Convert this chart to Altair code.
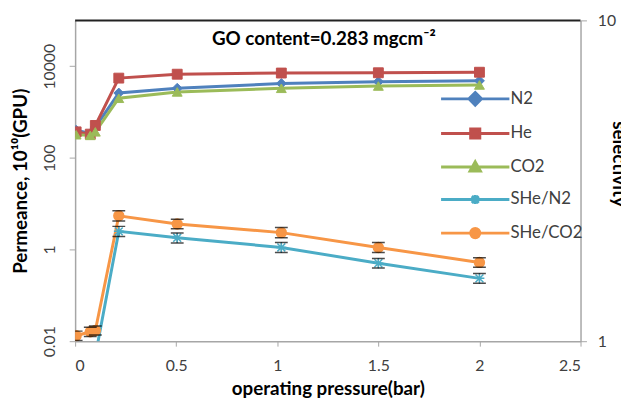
import altair as alt
import pandas as pd

# ---------------- data ----------------
PRESSURE = [0.005, 0.075, 0.1, 0.216, 0.505, 1.02, 1.5, 2.0]
N2 = [400, 340, 470, 2600, 3300, 4200, 4600, 4800]
HE = [370, 330, 510, 5500, 6700, 7100, 7200, 7400]
CO2 = [320, 310, 370, 2000, 2750, 3300, 3700, 3900]
S_HE_N2 = [0.88, 0.88, 0.9, 2.2, 2.1, 1.96, 1.75, 1.57]
S_HE_CO2 = [1.04, 1.07, 1.08, 2.46, 2.32, 2.18, 1.96, 1.76]
ERR_HE_N2 = [0.03, 0.03, 0.03, 0.08, 0.075, 0.07, 0.06, 0.055]
ERR_HE_CO2 = [0.035, 0.035, 0.035, 0.09, 0.08, 0.08, 0.07, 0.06]

SERIES = ["N2", "He", "CO2", "SHe/N2", "SHe/CO2"]
COLORS = ["#4F81BD", "#C0504D", "#9BBB59", "#4BACC6", "#F79646"]
TITLE = "GO content=0.283 mgcm\u207b\u00b2"
X_TICKS = [0, 0.5, 1, 1.5, 2, 2.5]
LEFT_TICKS = [0.01, 1, 100, 10000]
RIGHT_TICKS = [1, 10]

# ---------------- tables ----------------
perm = pd.concat([
    pd.DataFrame({"pressure": PRESSURE, "value": v, "series": s})
    for s, v in (("N2", N2), ("He", HE), ("CO2", CO2))
], ignore_index=True)

sel_parts = []
for s, v, e in (("SHe/N2", S_HE_N2, ERR_HE_N2), ("SHe/CO2", S_HE_CO2, ERR_HE_CO2)):
    d = pd.DataFrame({"pressure": PRESSURE, "value": v, "err": e, "series": s})
    d["lo"] = d["value"] - d["err"]
    d["hi"] = d["value"] + d["err"]
    sel_parts.append(d)
sel = pd.concat(sel_parts, ignore_index=True)

FONT = "Lato"
W, H = 512, 325

STAR = "M-0.8,-0.8L0.8,0.8M-0.8,0.8L0.8,-0.8M0,-1V1M-1,0H1"
shape_scale = alt.Scale(domain=SERIES,
                        range=["diamond", "square", "triangle-up", STAR, "circle"])

LINE = "M-1,0H11"
legend_shapes = [
    LINE + "M5,-1.1L6.1,0L5,1.1L3.9,0Z",
    LINE + "M4.2,-0.8H5.8V0.8H4.2Z",
    LINE + "M5,-0.9L5.9,0.7H4.1Z",
    LINE + "M4.4,-0.6L5.6,0.6M4.4,0.6L5.6,-0.6M5,-0.8V0.8",
    LINE + "M5.8,0A0.8,0.8,0,1,1,4.2,0A0.8,0.8,0,1,1,5.8,0Z",
]


def cscale():
    return alt.Scale(domain=SERIES, range=COLORS)


def sel_y(field):
    return alt.Y(field, scale=alt.Scale(type="log", domain=[1, 10], nice=False))


x_enc = alt.X(
    "pressure:Q",
    scale=alt.Scale(domain=[0, 2.5], nice=False, zero=False),
    axis=alt.Axis(values=X_TICKS, format="~g", title="operating pressure(bar)",
                  tickSize=5, labelPadding=25, labelBaseline="alphabetic",
                  titleY=54, titleBaseline="alphabetic"),
)

y_left = alt.Y(
    "value:Q",
    scale=alt.Scale(type="log", domain=[0.01, 100000], nice=False),
    axis=alt.Axis(values=LEFT_TICKS, format="~g", title="Permeance, 10\u00b9\u2070(GPU)",
                  orient="left", tickSize=6, labelAngle=270, labelAlign="center",
                  labelBaseline="alphabetic", labelPadding=15,
                  titleAngle=270, titleX=-49, titleBaseline="alphabetic"),
)

y_right = alt.Y(
    "value:Q",
    scale=alt.Scale(type="log", domain=[1, 10], nice=False),
    axis=alt.Axis(values=RIGHT_TICKS, format="~g", title="selectivity",
                  orient="right", tickSize=6, labelPadding=11,
                  titleAngle=90, titleX=32, titleY=145, titleBaseline="alphabetic"),
)

# ---------------- permeance (left axis) ----------------
base_l = alt.Chart(perm)
lines_l = base_l.mark_line(strokeWidth=3, clip=True).encode(
    x=x_enc, y=y_left,
    color=alt.Color("series:N", scale=cscale(), legend=None),
)
points_l = base_l.mark_point(filled=True, size=100, strokeWidth=1, opacity=1, clip=True).encode(
    x=x_enc, y=y_left,
    color=alt.Color("series:N", scale=cscale(), legend=None),
    stroke=alt.Stroke("series:N", scale=cscale(), legend=None),
    shape=alt.Shape("series:N", scale=shape_scale, legend=None),
)
left = alt.layer(lines_l, points_l)

# ---------------- selectivity (right axis) ----------------
base_r = alt.Chart(sel)
lines_r = base_r.mark_line(strokeWidth=3, clip=True).encode(
    x=x_enc, y=y_right,
    color=alt.Color("series:N", scale=cscale(), legend=None),
)
points_r = base_r.mark_point(filled=True, size=100, strokeWidth=1.5, opacity=1, clip=True).encode(
    x=x_enc, y=y_right,
    color=alt.Color("series:N", scale=cscale(), legend=None),
    stroke=alt.Stroke("series:N", scale=cscale(), legend=None),
    shape=alt.Shape("series:N", scale=shape_scale, legend=None),
)
err_r = base_r.mark_rule(color="black", strokeWidth=1, clip=True).encode(
    x=x_enc, y=sel_y("lo:Q"), y2="hi:Q",
)
cap_lo = base_r.mark_tick(color="black", size=13, thickness=1.5, orient="horizontal",
                          strokeDash=[2, 2], clip=True).encode(x=x_enc, y=sel_y("lo:Q"))
cap_hi = base_r.mark_tick(color="black", size=13, thickness=1.5, orient="horizontal",
                          strokeDash=[2, 2], clip=True).encode(x=x_enc, y=sel_y("hi:Q"))
right = alt.layer(lines_r, err_r, points_r, cap_lo, cap_hi)

# ---------------- legend ----------------
leg = alt.Legend(title=None, orient="none", legendX=368, legendY=71,
                 labelFont=FONT, labelFontSize=17, labelColor="#404040",
                 symbolSize=133, symbolStrokeWidth=3, symbolOpacity=1,
                 labelOffset=56, rowPadding=11, labelLimit=200)
legend_layer = alt.Chart(sel).mark_point(filled=True, opacity=0, size=133, strokeWidth=3).encode(
    x=x_enc,
    y=alt.Y("value:Q", scale=alt.Scale(type="log", domain=[1, 10]), axis=None),
    color=alt.Color("series:N", scale=cscale(), legend=leg),
    stroke=alt.Stroke("series:N", scale=cscale(), legend=leg),
    shape=alt.Shape("series:N", scale=alt.Scale(domain=SERIES, range=legend_shapes), legend=leg),
)

# ---------------- decorations ----------------
title_layer = alt.Chart(pd.DataFrame({"label": [TITLE]})).mark_text(
    font=FONT, fontSize=19, fontWeight="bold", align="center", baseline="alphabetic", color="black"
).encode(text="label:N", x=alt.value(252), y=alt.value(25))

top_rule = alt.Chart(pd.DataFrame({"a": [0]})).mark_rule(color="#222222", strokeWidth=2).encode(
    x=alt.value(0), x2=alt.value(W), y=alt.value(0)
)

chart = alt.layer(left, right, legend_layer, title_layer, top_rule).resolve_scale(
    y="independent", color="independent", stroke="independent", shape="independent"
).properties(
    width=W, height=H,
    autosize=alt.AutoSizeParams(type="none"),
    padding={"left": 68, "top": 10, "right": 41, "bottom": 57},
).configure_view(stroke=None).configure_axis(
    labelFont=FONT, titleFont=FONT, labelFontSize=16, titleFontSize=19,
    titleFontWeight="bold", labelColor="#404040", titleColor="black",
    domainColor="#A6A6A6", tickColor="#A6A6A6", domainWidth=1.5, grid=False,
)

chart.save("out.html", embed_options={"renderer": "svg", "actions": False})
